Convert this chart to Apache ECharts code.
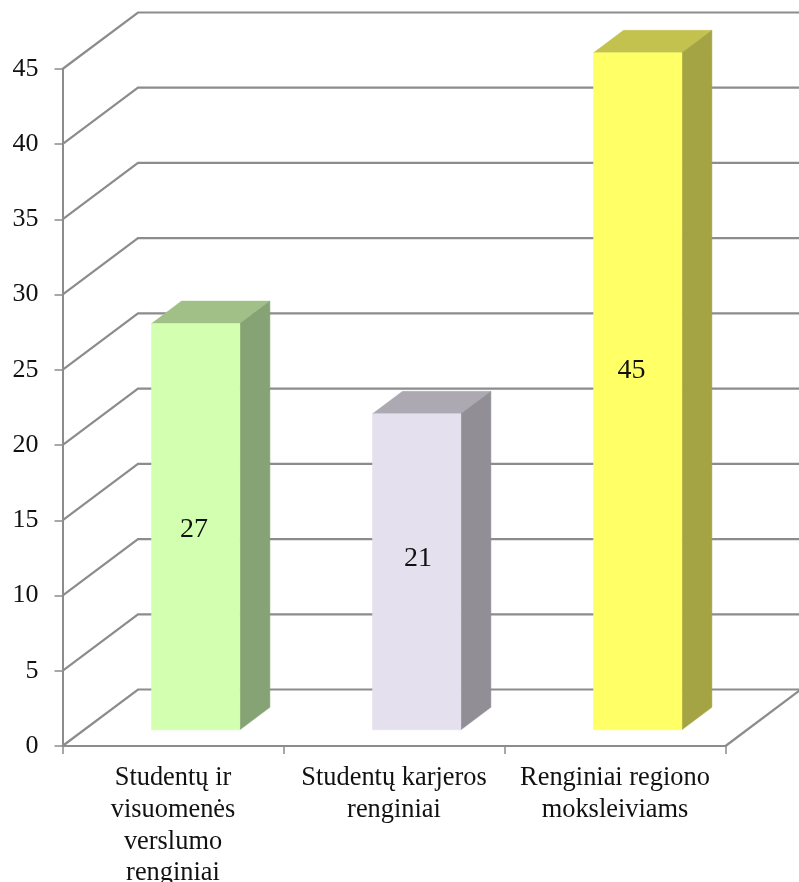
<!DOCTYPE html>
<html><head><meta charset="utf-8">
<style>html,body{margin:0;padding:0;background:#fff}#c{width:799px;height:882px}</style>
<script src="https://cdn.jsdelivr.net/npm/echarts@6/dist/echarts.min.js"></script>
</head><body><div id="c"></div>
<script>
const categories = ['Studentų ir\nvisuomenės\nverslumo\nrenginiai', 'Studentų karjeros\nrenginiai', 'Renginiai regiono\nmoksleiviams'];
const values = [27, 21, 45];
const yTicks = [0, 5, 10, 15, 20, 25, 30, 35, 40, 45];
const labelHeights = [13.3, 11.4, 23.9];
const frontColors = ['#D3FFB0', '#E5E0EE', '#FFFF66'];
const topColors = ['#A1C088', '#ADA9B2', '#C3C24F'];
const sideColors = ['#85A374', '#918E96', '#A5A445'];
const lineColor = '#8C8C8C';
const font = '"Liberation Serif", "Times New Roman", serif';
const wallDx = 75.5, wallDy = -56.5, barDx = 30, barDy = -22.5, barShiftX = 22.7, barShiftY = -16.2, barWidthRatio = 0.4;
const labelShiftX = [-1.7, 1.3, -6.3];

const chart = echarts.init(document.getElementById('c'), null, {renderer: 'canvas'});
chart.setOption({
  animation: false,
  backgroundColor: '#fff',
  grid: {left: 62.5, top: 69, width: 663, height: 677, containLabel: false, outerBoundsMode: 'none'},
  xAxis: {
    type: 'category', data: categories,
    axisLine: {lineStyle: {color: lineColor, width: 2}},
    axisTick: {show: true, length: 8, lineStyle: {color: lineColor, width: 1.5}},
    axisLabel: {fontFamily: font, fontSize: 26.4, color: '#111', lineHeight: 31.7, margin: 16.5, interval: 0}
  },
  yAxis: {
    type: 'value', min: 0, max: 45, interval: 5,
    splitLine: {show: false},
    axisLine: {show: true, lineStyle: {color: lineColor, width: 2}},
    axisTick: {show: true, length: 8, lineStyle: {color: lineColor, width: 1.5}},
    axisLabel: {fontFamily: font, fontSize: 26, color: '#111', margin: 24, padding: [3, 0, 0, 0]}
  },
  series: [
    {
      type: 'custom', z: 1, silent: true, clip: false,
      data: yTicks.map(v => [0, v]),
      encode: {x: 0, y: 1},
      renderItem(params, api) {
        const y = api.coord([0, api.value(1)])[1];
        const left = params.coordSys.x, right = left + params.coordSys.width;
        const children = [{
          type: 'polyline',
          shape: {points: [[left, y], [left + wallDx, y + wallDy], [right + wallDx, y + wallDy]]},
          style: {stroke: lineColor, lineWidth: 2.2, fill: null}
        }];
        if (api.value(1) === 0) {
          children.push({
            type: 'line',
            shape: {x1: right, y1: y, x2: right + wallDx, y2: y + wallDy},
            style: {stroke: lineColor, lineWidth: 2.2}
          });
        }
        return {type: 'group', children};
      }
    },
    {
      type: 'custom', z: 2, silent: true, clip: false,
      data: values.map((v, i) => [i, v]),
      encode: {x: 0, y: 1},
      renderItem(params, api) {
        const i = api.value(0), v = api.value(1);
        const top = api.coord([i, v]), base = api.coord([i, 0]);
        const w = api.size([1, 0])[0] * barWidthRatio;
        const x0 = top[0] + barShiftX - w / 2, x1 = x0 + w;
        const yt = top[1] + barShiftY, yb = base[1] + barShiftY;
        const poly = (points, fill) => ({type: 'polygon', shape: {points}, style: {fill, stroke: fill, lineWidth: 0.5}});
        return {type: 'group', children: [
          poly([[x0, yt], [x1, yt], [x1 + barDx, yt + barDy], [x0 + barDx, yt + barDy]], topColors[i]),
          poly([[x1, yt], [x1 + barDx, yt + barDy], [x1 + barDx, yb + barDy], [x1, yb]], sideColors[i]),
          poly([[x0, yt], [x1, yt], [x1, yb], [x0, yb]], frontColors[i]),
          {type: 'text', style: {
            text: String(v), x: (x0 + x1) / 2 + labelShiftX[i], y: api.coord([i, labelHeights[i]])[1] + barShiftY,
            align: 'center', verticalAlign: 'middle', fill: '#111',
            fontFamily: font, fontSize: 28
          }}
        ]};
      }
    }
  ]
});
</script></body></html>
